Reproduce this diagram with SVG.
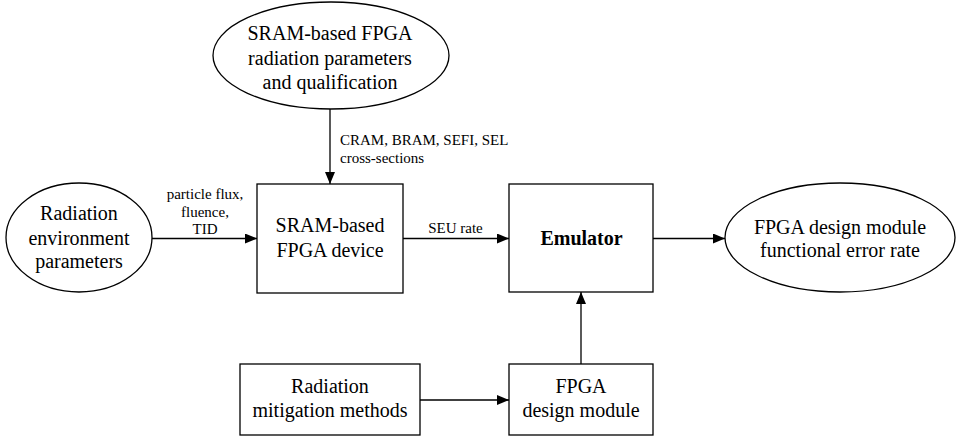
<svg xmlns="http://www.w3.org/2000/svg" width="958" height="436" viewBox="0 0 958 436" font-family="'Liberation Serif', serif">
  <style>
    .shape { fill: #ffffff; stroke: #000000; stroke-width: 1.3; }
    .edge { fill: none; stroke: #000000; stroke-width: 1.3; marker-end: url(#arrow); }
    .lbl { font-size: 20px; fill: #000000; text-anchor: middle; }
    .small { font-size: 15px; fill: #000000; }
    .bold { font-weight: bold; }
  </style>
  <defs>
    <marker id="arrow" viewBox="0 0 12 10" refX="12" refY="5" markerWidth="12" markerHeight="10" markerUnits="userSpaceOnUse" orient="auto">
      <path d="M0,0 L12,5 L0,10 Z" fill="#000000"/>
    </marker>
  </defs>
  <rect width="958" height="436" fill="#ffffff"/>

  <!-- connectors and their labels -->
  <g id="connectors">
    <line class="edge" x1="330" y1="109" x2="330" y2="184"/>
    <line class="edge" x1="152" y1="238.5" x2="257" y2="238.5"/>
    <line class="edge" x1="403" y1="238.5" x2="509" y2="238.5"/>
    <line class="edge" x1="653" y1="238.5" x2="725" y2="238.5"/>
    <line class="edge" x1="420" y1="400" x2="509" y2="400"/>
    <line class="edge" x1="581" y1="364" x2="581" y2="292"/>
    <text class="small" x="340" y="145">CRAM, BRAM, SEFI, SEL</text>
    <text class="small" x="340" y="163">cross-sections</text>
    <text class="small" x="205" y="199" text-anchor="middle">particle flux,</text>
    <text class="small" x="205" y="216.5" text-anchor="middle">fluence,</text>
    <text class="small" x="205" y="234" text-anchor="middle">TID</text>
    <text class="small" x="455.5" y="233" text-anchor="middle">SEU rate</text>
  </g>

  <g id="qualification">
    <ellipse class="shape" cx="331" cy="55.5" rx="118" ry="53.5"/>
    <text class="lbl" x="330" y="40">SRAM-based FPGA</text>
    <text class="lbl" x="330" y="65">radiation parameters</text>
    <text class="lbl" x="330" y="89">and qualification</text>
  </g>

  <g id="environment">
    <ellipse class="shape" cx="79" cy="237.5" rx="73" ry="54.5"/>
    <text class="lbl" x="79" y="220">Radiation</text>
    <text class="lbl" x="79" y="245">environment</text>
    <text class="lbl" x="79" y="268">parameters</text>
  </g>

  <g id="device">
    <rect class="shape" x="257" y="184" width="146" height="109"/>
    <text class="lbl" x="330" y="232">SRAM-based</text>
    <text class="lbl" x="330" y="257">FPGA device</text>
  </g>

  <g id="emulator">
    <rect class="shape" x="509" y="184" width="144" height="108"/>
    <text class="lbl bold" x="581.5" y="245">Emulator</text>
  </g>

  <g id="error-rate">
    <ellipse class="shape" cx="840" cy="237.5" rx="115" ry="54.5"/>
    <text class="lbl" x="840" y="234">FPGA design module</text>
    <text class="lbl" x="840" y="257">functional error rate</text>
  </g>

  <g id="mitigation">
    <rect class="shape" x="240" y="364" width="180" height="71"/>
    <text class="lbl" x="330" y="393">Radiation</text>
    <text class="lbl" x="330" y="417">mitigation methods</text>
  </g>

  <g id="design-module">
    <rect class="shape" x="509" y="364" width="144" height="71"/>
    <text class="lbl" x="581" y="393">FPGA</text>
    <text class="lbl" x="581" y="417">design module</text>
  </g>
</svg>
